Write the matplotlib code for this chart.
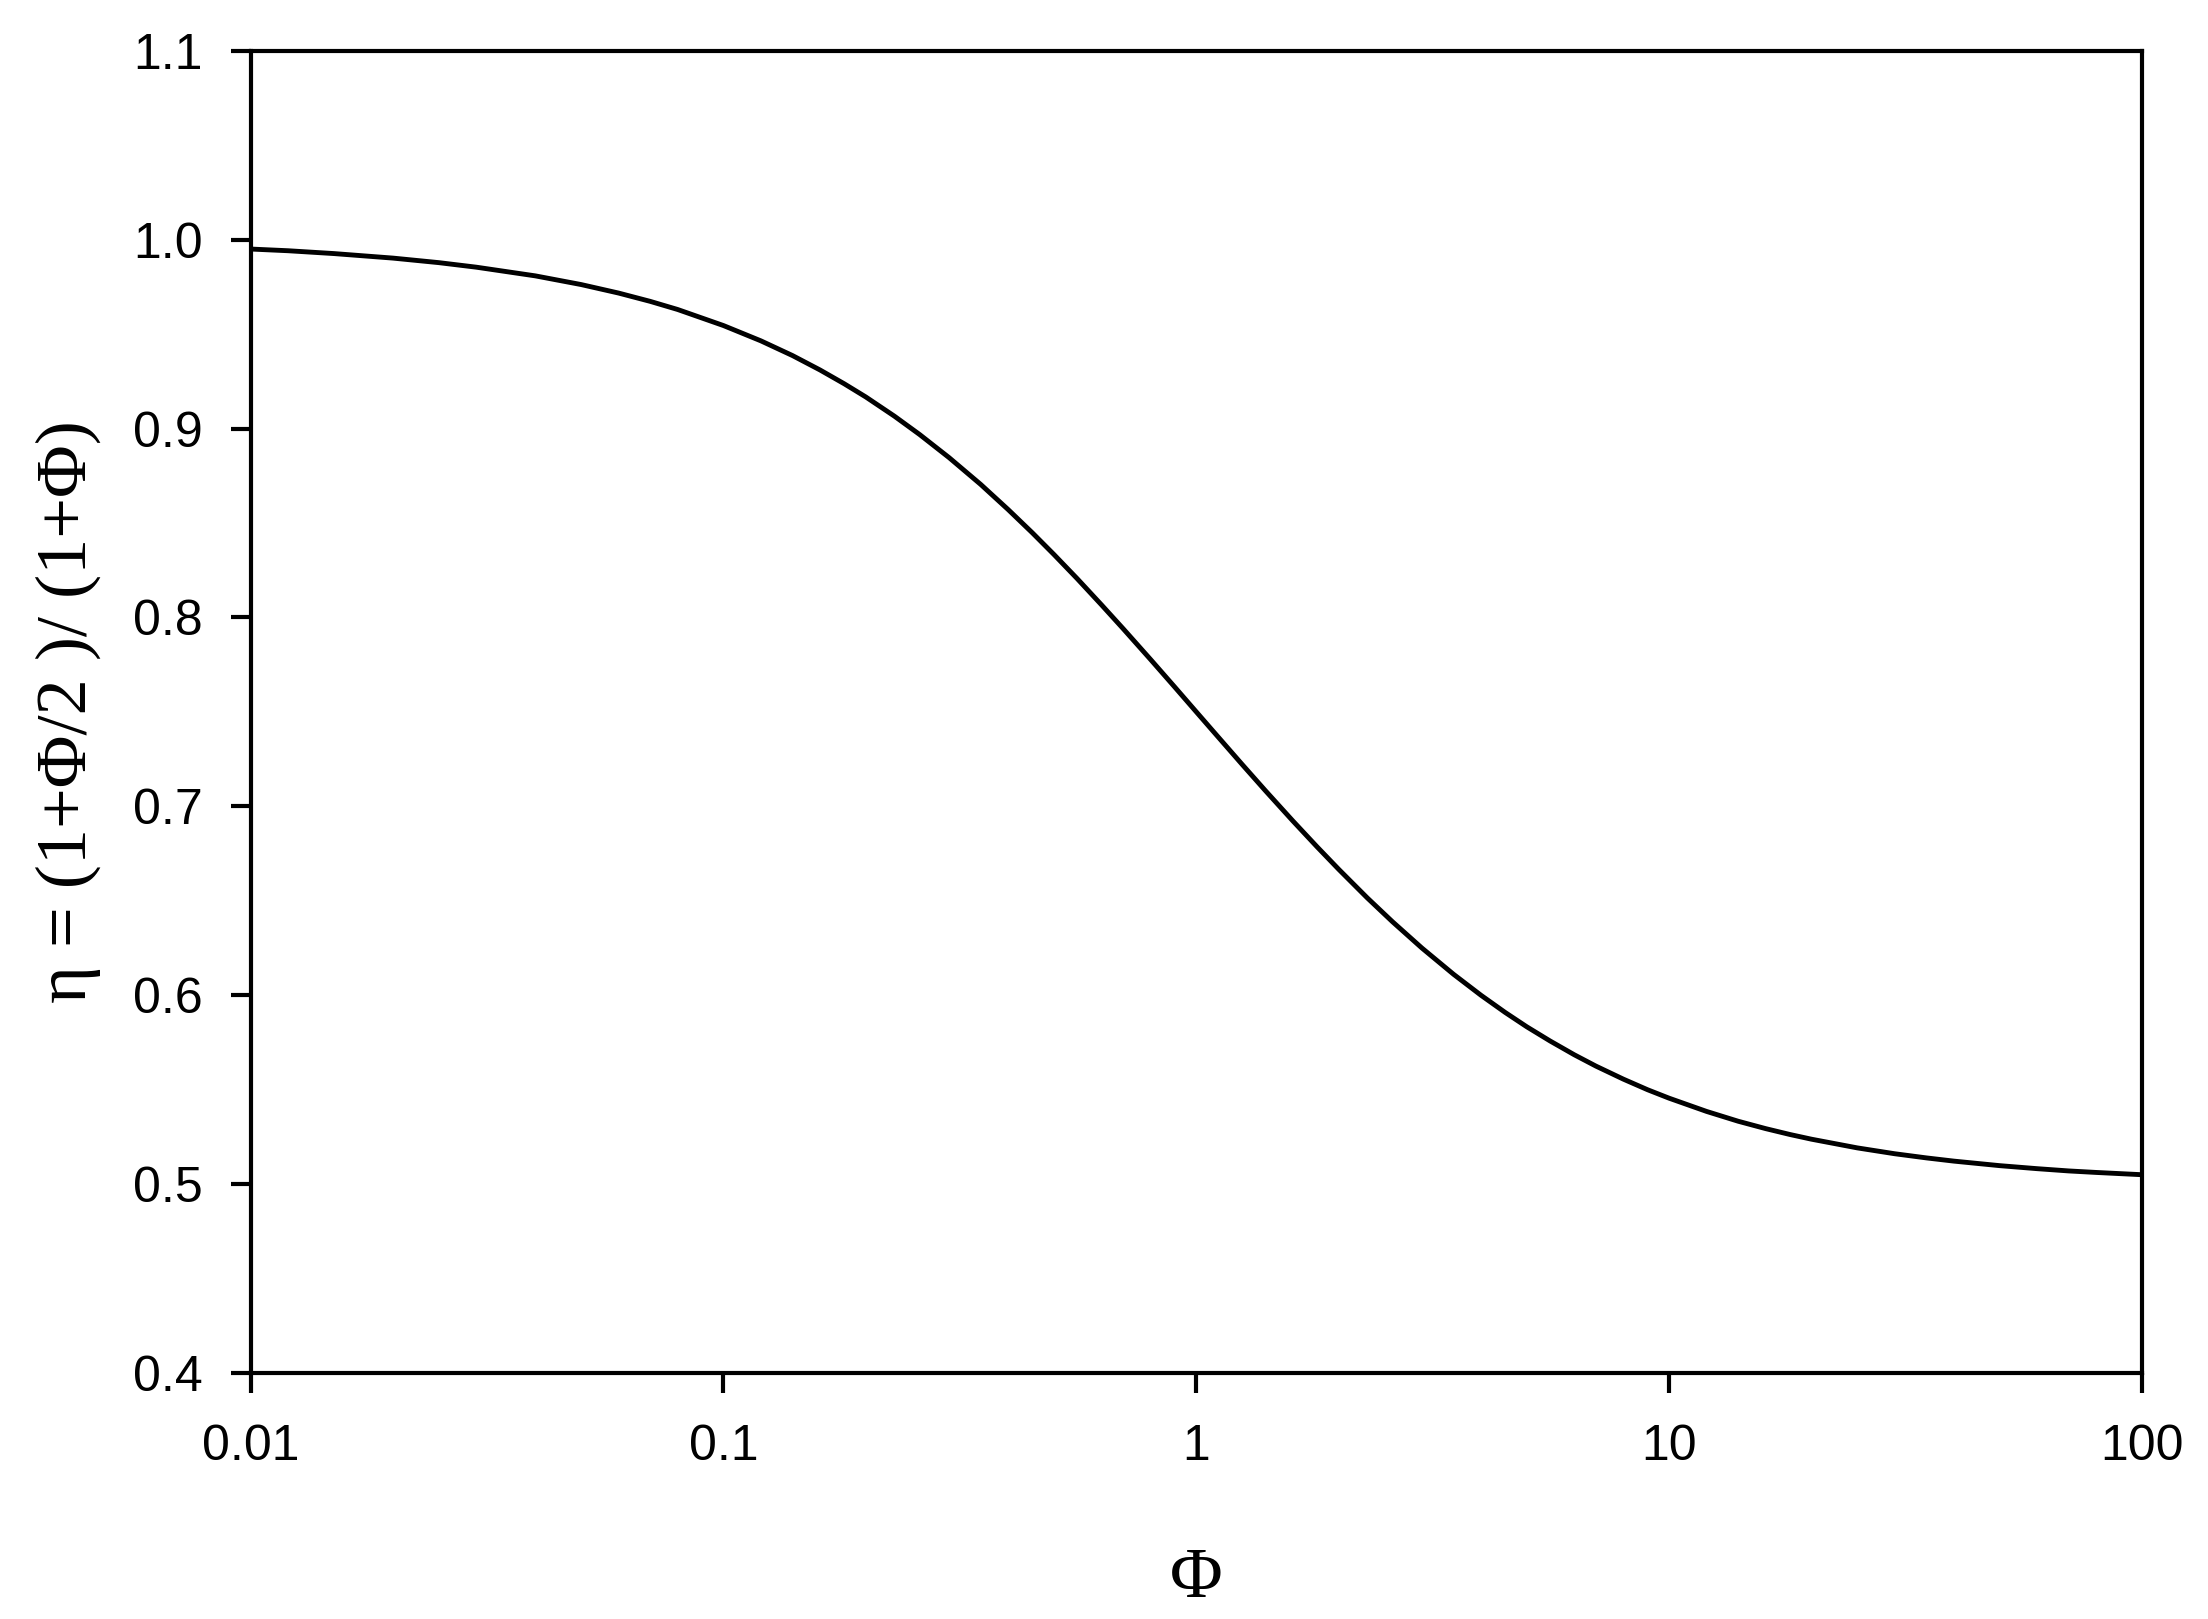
import numpy as np
import matplotlib
matplotlib.use("Agg")
import matplotlib.pyplot as plt
from matplotlib.ticker import FixedLocator, FixedFormatter, NullLocator

# Values (Phi on a log axis, eta on a linear one)
phi = [0.01, 0.012, 0.015, 0.02, 0.025, 0.03, 0.04, 0.05, 0.06, 0.07, 0.08,
       0.1, 0.12, 0.14, 0.16, 0.18, 0.2, 0.23, 0.26, 0.3, 0.35, 0.4, 0.45,
       0.5, 0.56, 0.63, 0.7, 0.8, 0.9, 1.0, 1.1, 1.25, 1.4, 1.6, 1.8,
       2.0, 2.3, 2.6, 3.0, 3.5, 4.0, 4.5, 5.0, 5.6, 6.3, 7.0, 8.0, 9.0,
       10, 12, 14, 16, 18, 20, 25, 30, 35, 40, 50, 60, 70, 80, 100]
eta = [0.9950, 0.9941, 0.9926, 0.9902, 0.9878, 0.9854, 0.9808, 0.9762, 0.9717, 0.9673, 0.9630,
       0.9545, 0.9464, 0.9386, 0.9310, 0.9237, 0.9167, 0.9065, 0.8968, 0.8846, 0.8704, 0.8571, 0.8448,
       0.8333, 0.8205, 0.8067, 0.7941, 0.7778, 0.7632, 0.7500, 0.7381, 0.7222, 0.7083, 0.6923, 0.6786,
       0.6667, 0.6515, 0.6389, 0.6250, 0.6111, 0.6000, 0.5909, 0.5833, 0.5758, 0.5685, 0.5625, 0.5556, 0.5500,
       0.5455, 0.5385, 0.5333, 0.5294, 0.5263, 0.5238, 0.5192, 0.5161, 0.5139, 0.5122, 0.5098, 0.5082, 0.5070,
       0.5062, 0.5050]

x_ticks = [0.01, 0.1, 1, 10, 100]
x_tick_labels = ["0.01", "0.1", "1", "10", "100"]
y_ticks = [0.4, 0.5, 0.6, 0.7, 0.8, 0.9, 1.0, 1.1]
y_tick_labels = ["0.4", "0.5", "0.6", "0.7", "0.8", "0.9", "1.0", "1.1"]

sans = ["Liberation Sans", "DejaVu Sans"]
serif = ["Liberation Serif", "DejaVu Serif"]

fig = plt.figure(figsize=(22.08, 16.19), dpi=100)
fig.subplots_adjust(left=0.1135, right=0.9701, top=0.9687, bottom=0.1519)
ax = fig.add_subplot(111)

ax.plot(phi, eta, color="black", linewidth=3.5, solid_capstyle="butt",
        solid_joinstyle="round")

ax.set_xscale("log")
ax.set_xlim(0.01, 100)
ax.set_ylim(0.4, 1.1)

ax.xaxis.set_major_locator(FixedLocator(x_ticks))
ax.xaxis.set_major_formatter(FixedFormatter(x_tick_labels))
ax.xaxis.set_minor_locator(NullLocator())
ax.yaxis.set_major_locator(FixedLocator(y_ticks))
ax.yaxis.set_major_formatter(FixedFormatter(y_tick_labels))

for spine in ax.spines.values():
    spine.set_linewidth(3.0)

ax.tick_params(axis="both", which="major", direction="out", length=14.5, width=3.0,
               labelsize=36, color="black")
ax.tick_params(axis="x", pad=22)
ax.tick_params(axis="y", pad=20)
for lab in ax.get_xticklabels() + ax.get_yticklabels():
    lab.set_family(sans)

ax.set_xlabel("\u03a6", fontsize=52, family=serif)
ax.xaxis.set_label_coords(0.5, -0.1316)
ax.set_ylabel("\u03b7 = (1+\u03a6/2 )/ (1+\u03a6)", fontsize=52, family=serif)
ax.yaxis.set_label_coords(-0.079, 0.5)

fig.savefig("out.png", dpi=100, facecolor="white")
